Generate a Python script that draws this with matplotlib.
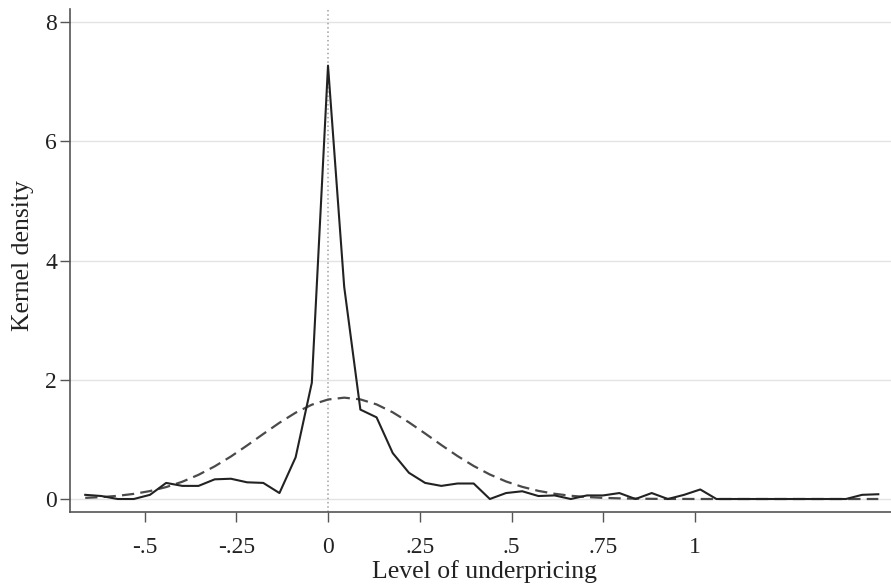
import matplotlib
matplotlib.use("Agg")
import matplotlib.pyplot as plt

# Evaluation grid (50 points, Stata kdensity default)
x_grid = [-0.6615, -0.6174, -0.5733, -0.5292, -0.4851, -0.4410, -0.3969, -0.3528,
          -0.3087, -0.2646, -0.2205, -0.1764, -0.1323, -0.0882, -0.0441, 0.0,
          0.0441, 0.0882, 0.1323, 0.1764, 0.2205, 0.2646, 0.3087, 0.3528,
          0.3969, 0.4410, 0.4851, 0.5292, 0.5733, 0.6174, 0.6615, 0.7056,
          0.7497, 0.7938, 0.8379, 0.8820, 0.9261, 0.9702, 1.0143, 1.0584,
          1.1025, 1.1466, 1.1907, 1.2348, 1.2789, 1.3230, 1.3671, 1.4112,
          1.4553, 1.4994]

kernel_density = [0.07, 0.05, 0.00, 0.00, 0.07, 0.27, 0.22, 0.22, 0.33, 0.34,
                  0.28, 0.27, 0.10, 0.70, 1.95, 7.27, 3.56, 1.50, 1.37, 0.77,
                  0.44, 0.27, 0.22, 0.26, 0.26, 0.00, 0.10, 0.13, 0.05, 0.06,
                  0.00, 0.06, 0.06, 0.10, 0.00, 0.10, 0.00, 0.07, 0.16, 0.00,
                  0.00, 0.00, 0.00, 0.00, 0.00, 0.00, 0.00, 0.00, 0.07, 0.08]

normal_density = [0.019, 0.032, 0.053, 0.086, 0.133, 0.200, 0.290, 0.406, 0.548, 0.713,
                  0.898, 1.091, 1.279, 1.448, 1.582, 1.669, 1.700, 1.671, 1.587, 1.454,
                  1.286, 1.099, 0.906, 0.721, 0.554, 0.411, 0.294, 0.204, 0.136, 0.088,
                  0.054, 0.033, 0.019, 0.011, 0.006, 0.003, 0.001, 0.001, 0.0, 0.0,
                  0.0, 0.0, 0.0, 0.0, 0.0, 0.0, 0.0, 0.0, 0.0, 0.0]

x_ticks = [-0.5, -0.25, 0, 0.25, 0.5, 0.75, 1]
x_tick_labels = ["-.5", "-.25", "0", ".25", ".5", ".75", "1"]
y_ticks = [0, 2, 4, 6, 8]
y_tick_labels = ["0", "2", "4", "6", "8"]

plt.rcParams['font.family'] = ['Liberation Serif', 'DejaVu Serif']

fig = plt.figure(figsize=(8.91, 5.84), dpi=100)
ax = fig.add_axes([70/891, 1 - 512/584, 1 - 70/891, (512 - 9)/584])

for yv in y_ticks:
    ax.axhline(yv, color="#e3e3e3", lw=1.0, zorder=0)
ax.axvline(0, color="#a0a0a0", lw=1.1, ls=(0, (1, 1.8)), zorder=1)

ax.plot(x_grid, normal_density, color="#4a4a4a", lw=1.6, ls=(0, (5.5, 2.8)), zorder=2)
ax.plot(x_grid, kernel_density, color="#222222", lw=1.5, zorder=3)

ax.set_xlim(-0.703, 1.534)
ax.set_ylim(-0.218, 8.22)

ax.set_xticks(x_ticks)
ax.set_xticklabels(x_tick_labels)
ax.set_yticks(y_ticks)
ax.set_yticklabels(y_tick_labels)

for s in ["top", "right"]:
    ax.spines[s].set_visible(False)
for s in ["left", "bottom"]:
    ax.spines[s].set_color("#555555")
    ax.spines[s].set_linewidth(1.2)

ax.tick_params(axis="both", direction="out", length=7.2, width=1.0, color="#555555",
               labelsize=17, labelcolor="#222222")
ax.tick_params(axis="x", pad=11)
ax.tick_params(axis="y", pad=2)

ax.set_xlabel("Level of underpricing", fontsize=18.5, color="#222222")
ax.xaxis.set_label_coords(0.505, (6 - 72) / 503)
ax.xaxis.label.set_verticalalignment("baseline")

ax.set_ylabel("Kernel density", fontsize=18.5, color="#222222")
ax.yaxis.set_label_coords((34 - 70) / 821, 0.51)

fig.savefig("out.png", dpi=100)
